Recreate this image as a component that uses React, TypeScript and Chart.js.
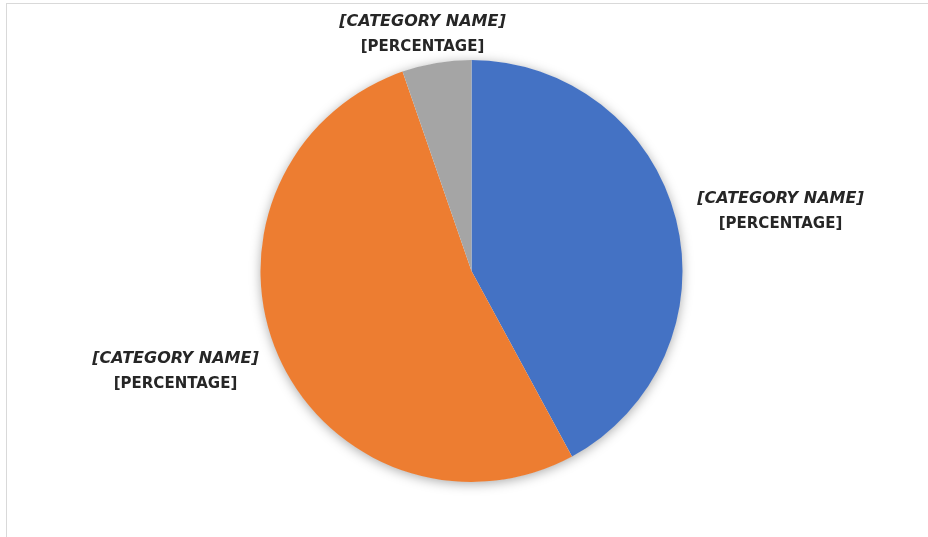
import React, { useEffect, useRef } from "react";
import { Chart, registerables } from "chart.js";

Chart.register(...registerables);

const categories = ["[CATEGORY NAME]", "[CATEGORY NAME]", "[CATEGORY NAME]"];
const values = [42.1, 52.6, 5.3];
const sliceColors = ["#4472C4", "#ED7D31", "#A5A5A5"];
const valueLabels = ["[PERCENTAGE]", "[PERCENTAGE]", "[PERCENTAGE]"];

// label anchor offsets (from the pie centre) for each slice's two-line label
const labelOffsets = [
  { dx: 309, dy: -61 },
  { dx: -296, dy: 99 },
  { dx: -49, dy: -238 },
];

const TEXT_COLOR = "#262626";
const FONT_FAMILY = "'DejaVu Sans', sans-serif";

const pieShadow = {
  id: "pieShadow",
  beforeDatasetsDraw(chart: any) {
    const arc = chart.getDatasetMeta(0).data[0];
    if (!arc) return;
    const { x, y, outerRadius } = arc.getProps(["x", "y", "outerRadius"], true);
    const ctx = chart.ctx;
    ctx.save();
    ctx.shadowColor = "rgba(0,0,0,0.35)";
    ctx.shadowBlur = 12;
    ctx.shadowOffsetX = 0;
    ctx.shadowOffsetY = 2;
    ctx.beginPath();
    ctx.arc(x, y, outerRadius - 0.5, 0, Math.PI * 2);
    ctx.fillStyle = "#ffffff";
    ctx.fill();
    ctx.restore();
  },
};

const sliceLabels = {
  id: "sliceLabels",
  afterDatasetsDraw(chart: any) {
    const meta = chart.getDatasetMeta(0);
    const ctx = chart.ctx;
    meta.data.forEach((arc: any, i: number) => {
      const { x, y } = arc.getProps(["x", "y"], true);
      const cx = x + labelOffsets[i].dx;
      const cy = y + labelOffsets[i].dy;
      ctx.save();
      ctx.fillStyle = TEXT_COLOR;
      ctx.textAlign = "center";
      ctx.textBaseline = "alphabetic";
      ctx.font = `italic bold 16px ${FONT_FAMILY}`;
      ctx.fillText(chart.data.labels[i], cx, cy - 7);
      ctx.font = `bold 15px ${FONT_FAMILY}`;
      ctx.fillText(valueLabels[i], cx, cy + 18);
      ctx.restore();
    });
  },
};

export default function App() {
  const canvasRef = useRef<HTMLCanvasElement | null>(null);

  useEffect(() => {
    if (!canvasRef.current) return;
    const chart = new Chart(canvasRef.current, {
      type: "pie",
      data: {
        labels: categories,
        datasets: [
          {
            data: values,
            backgroundColor: sliceColors,
            borderWidth: 0,
          },
        ],
      },
      options: {
        animation: false,
        responsive: false,
        maintainAspectRatio: false,
        layout: { padding: { top: 60, bottom: 55, left: 15, right: 0 } },
        plugins: {
          legend: { display: false },
          tooltip: { enabled: false },
        },
      },
      plugins: [pieShadow, sliceLabels],
    });
    return () => chart.destroy();
  }, []);

  return (
    <div
      style={{
        position: "fixed",
        left: 0,
        top: 0,
        width: 928,
        height: 537,
        background: "#ffffff",
        overflow: "hidden",
      }}
    >
      <div
        style={{
          position: "absolute",
          left: 6,
          top: 3,
          width: 940,
          height: 560,
          border: "1px solid #d9d9d9",
          boxSizing: "border-box",
        }}
      />
      <canvas
        ref={canvasRef}
        width={928}
        height={537}
        style={{ position: "absolute", left: 0, top: 0 }}
      />
    </div>
  );
}
